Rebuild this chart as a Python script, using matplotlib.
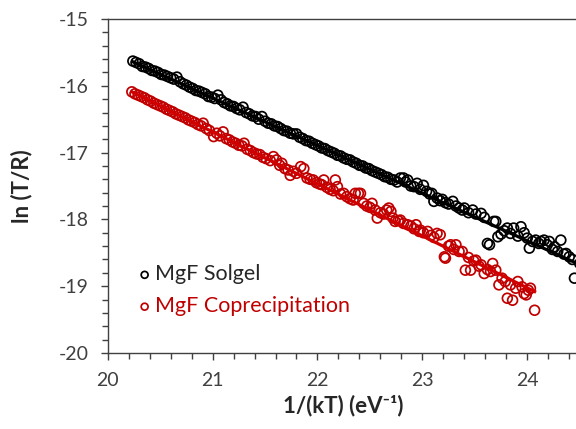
import matplotlib
matplotlib.use("Agg")
import matplotlib.pyplot as plt
from matplotlib.ticker import MultipleLocator

plt.rcParams['font.family'] = ['Lato', 'DejaVu Sans']
plt.rcParams['axes.unicode_minus'] = False

# ---- data ----
solgel_x = [20.24, 20.27, 20.30, 20.33, 20.36, 20.39, 20.42, 20.45, 20.48, 20.51,
            20.54, 20.57, 20.60, 20.63, 20.66, 20.69, 20.72, 20.75, 20.78, 20.81,
            20.84, 20.87, 20.90, 20.93, 20.96, 20.99, 21.02, 21.05, 21.08, 21.11,
            21.14, 21.17, 21.20, 21.23, 21.26, 21.29, 21.32, 21.35, 21.38, 21.41,
            21.44, 21.47, 21.50, 21.53, 21.56, 21.59, 21.62, 21.65, 21.68, 21.71,
            21.74, 21.77, 21.80, 21.83, 21.86, 21.89, 21.92, 21.95, 21.98, 22.01,
            22.04, 22.07, 22.10, 22.13, 22.16, 22.19, 22.22, 22.25, 22.28, 22.31,
            22.34, 22.37, 22.40, 22.43, 22.46, 22.49, 22.52, 22.55, 22.58, 22.61,
            22.64, 22.67, 22.70, 22.73, 22.76, 22.79, 22.82, 22.84, 22.86, 22.89,
            22.92, 22.95, 22.98, 23.01, 23.04, 23.07, 23.09, 23.11, 23.14, 23.17,
            23.19, 23.22, 23.25, 23.29, 23.32, 23.35, 23.38, 23.40, 23.44, 23.48,
            23.51, 23.56, 23.59, 23.62, 23.64, 23.68, 23.70, 23.72, 23.75, 23.78,
            23.81, 23.84, 23.87, 23.91, 23.94, 23.97, 24.00, 24.02, 24.05, 24.08,
            24.11, 24.13, 24.16, 24.19, 24.21, 24.24, 24.26, 24.29, 24.32, 24.35,
            24.37, 24.40, 24.43, 24.45, 24.50, 24.55, 24.60]
solgel_y = [-15.63, -15.65, -15.67, -15.71, -15.72, -15.74, -15.77, -15.78, -15.80, -15.83,
            -15.84, -15.86, -15.88, -15.90, -15.87, -15.94, -15.97, -15.99, -16.02, -16.04,
            -16.07, -16.08, -16.10, -16.12, -16.16, -16.17, -16.19, -16.14, -16.21, -16.25,
            -16.27, -16.30, -16.31, -16.34, -16.36, -16.32, -16.40, -16.42, -16.45, -16.46,
            -16.50, -16.46, -16.53, -16.56, -16.57, -16.60, -16.61, -16.64, -16.67, -16.68,
            -16.71, -16.72, -16.72, -16.77, -16.79, -16.82, -16.83, -16.86, -16.88, -16.90,
            -16.93, -16.94, -16.97, -16.99, -17.01, -17.04, -17.05, -17.08, -17.10, -17.11,
            -17.14, -17.16, -17.19, -17.20, -17.23, -17.24, -17.27, -17.29, -17.31, -17.33,
            -17.36, -17.37, -17.40, -17.41, -17.44, -17.38, -17.38, -17.44, -17.41, -17.50,
            -17.51, -17.46, -17.55, -17.49, -17.58, -17.62, -17.61, -17.73, -17.68, -17.72,
            -17.70, -17.75, -17.77, -17.73, -17.80, -17.83, -17.86, -17.83, -17.90, -17.86,
            -17.92, -17.91, -17.97, -18.36, -18.38, -18.03, -18.03, -18.26, -18.22, -18.17,
            -18.13, -18.21, -18.13, -18.25, -18.11, -18.20, -18.28, -18.43, -18.33, -18.31,
            -18.36, -18.33, -18.31, -18.38, -18.33, -18.45, -18.41, -18.48, -18.31, -18.52,
            -18.51, -18.56, -18.60, -18.88, -18.66, -18.70, -18.75]

copre_x = [20.23, 20.26, 20.29, 20.32, 20.35, 20.38, 20.41, 20.44, 20.47, 20.50,
           20.53, 20.56, 20.59, 20.62, 20.65, 20.68, 20.71, 20.74, 20.77, 20.80,
           20.83, 20.86, 20.89, 20.91, 20.94, 20.97, 21.01, 21.04, 21.07, 21.10,
           21.13, 21.16, 21.19, 21.22, 21.25, 21.28, 21.30, 21.33, 21.36, 21.39,
           21.42, 21.45, 21.48, 21.51, 21.55, 21.58, 21.61, 21.64, 21.66, 21.69,
           21.72, 21.74, 21.77, 21.80, 21.84, 21.87, 21.90, 21.93, 21.96, 21.99,
           22.02, 22.04, 22.06, 22.09, 22.12, 22.15, 22.17, 22.19, 22.22, 22.25,
           22.28, 22.31, 22.34, 22.36, 22.39, 22.41, 22.44, 22.47, 22.50, 22.52,
           22.55, 22.57, 22.60, 22.63, 22.66, 22.68, 22.70, 22.72, 22.74, 22.77,
           22.79, 22.82, 22.86, 22.89, 22.92, 22.94, 22.97, 22.98, 23.01, 23.05,
           23.08, 23.11, 23.14, 23.17, 23.21, 23.22, 23.25, 23.27, 23.30, 23.32,
           23.35, 23.38, 23.41, 23.44, 23.46, 23.49, 23.51, 23.54, 23.56, 23.59,
           23.62, 23.65, 23.67, 23.70, 23.73, 23.76, 23.79, 23.81, 23.84, 23.86,
           23.89, 23.91, 23.95, 23.97, 23.99, 24.01, 24.03, 24.07]
copre_y = [-16.09, -16.12, -16.14, -16.16, -16.18, -16.21, -16.23, -16.26, -16.28, -16.30,
           -16.32, -16.35, -16.37, -16.39, -16.42, -16.44, -16.46, -16.48, -16.51, -16.53,
           -16.55, -16.58, -16.60, -16.56, -16.64, -16.67, -16.76, -16.71, -16.75, -16.69,
           -16.79, -16.81, -16.84, -16.86, -16.89, -16.90, -16.86, -16.95, -16.97, -17.00,
           -17.02, -17.03, -17.07, -17.09, -17.12, -17.06, -17.11, -17.19, -17.16, -17.24,
           -17.26, -17.34, -17.28, -17.31, -17.21, -17.24, -17.38, -17.40, -17.41, -17.45,
           -17.47, -17.48, -17.41, -17.52, -17.55, -17.57, -17.41, -17.51, -17.62, -17.61,
           -17.66, -17.69, -17.71, -17.61, -17.61, -17.61, -17.76, -17.80, -17.82, -17.76,
           -17.86, -17.98, -17.90, -17.92, -17.86, -17.83, -17.88, -17.98, -18.03, -18.02,
           -18.01, -18.06, -18.08, -18.10, -18.14, -18.08, -18.18, -18.16, -18.20, -18.18,
           -18.24, -18.27, -18.21, -18.23, -18.56, -18.58, -18.40, -18.38, -18.45, -18.38,
           -18.48, -18.48, -18.76, -18.57, -18.76, -18.62, -18.61, -18.70, -18.68, -18.81,
           -18.75, -18.78, -18.66, -18.76, -18.98, -18.88, -18.93, -19.18, -18.98, -19.21,
           -19.03, -18.93, -19.01, -19.11, -19.13, -19.06, -19.03, -19.36]

# linear trendlines (end points)
solgel_fit_x = [20.24, 24.70]
solgel_fit_y = [-15.64, -18.82]
copre_fit_x = [20.23, 24.07]
copre_fit_y = [-16.09, -19.08]

series_labels = ["MgF Solgel", "MgF Coprecipitation"]
x_label = "1/(kT) (eV\u207b\u00b9)"
y_label = "ln (T/R)"

# ---- drawing ----
fig = plt.figure(figsize=(5.76, 4.29), dpi=100)
ax = fig.add_axes([107.7 / 576, 76 / 429, 472 / 576, 334 / 429])

black = '#000000'
red = '#C00000'
axis_col = '#404040'

s1 = ax.scatter(solgel_x, solgel_y, s=50, facecolors='none', edgecolors=black,
                linewidths=1.25, zorder=3, label=series_labels[0])
s2 = ax.scatter(copre_x, copre_y, s=50, facecolors='none', edgecolors=red,
                linewidths=1.25, zorder=3, label=series_labels[1])
ax.plot(solgel_fit_x, solgel_fit_y, color=black, lw=2.3, zorder=4)
ax.plot(copre_fit_x, copre_fit_y, color='#D00000', lw=2.3, zorder=4)

ax.set_xlim(20, 24.5)
ax.set_ylim(-20, -15)
ax.xaxis.set_major_locator(MultipleLocator(1))
ax.xaxis.set_minor_locator(MultipleLocator(0.2))
ax.yaxis.set_major_locator(MultipleLocator(1))
ax.yaxis.set_minor_locator(MultipleLocator(0.2))

for sp in ['left', 'bottom', 'top']:
    ax.spines[sp].set_color(axis_col)
    ax.spines[sp].set_linewidth(1.0)
ax.spines['right'].set_visible(False)

ax.tick_params(which='major', direction='out', length=5, width=1.0, color=axis_col,
               labelsize=14, labelcolor='#404040', pad=9)
ax.tick_params(which='minor', direction='out', length=4, width=1.0, color=axis_col)
ax.tick_params(axis='x', which='both', top=False)

ax.set_xlabel(x_label, fontsize=16, fontweight='bold', color='#262626', labelpad=4)
ax.set_ylabel(y_label, fontsize=16, fontweight='bold', color='#262626', labelpad=19)

leg = ax.legend(handles=[s1, s2], loc='upper left', bbox_to_anchor=(0.06, 0.265),
                frameon=False, fontsize=15.5, handletextpad=0.08, handlelength=0.8,
                borderaxespad=0, borderpad=0, labelspacing=0.55, markerscale=0.7)
leg.get_texts()[0].set_color('#262626')
leg.get_texts()[1].set_color(red)

fig.savefig("out.png", dpi=100)
